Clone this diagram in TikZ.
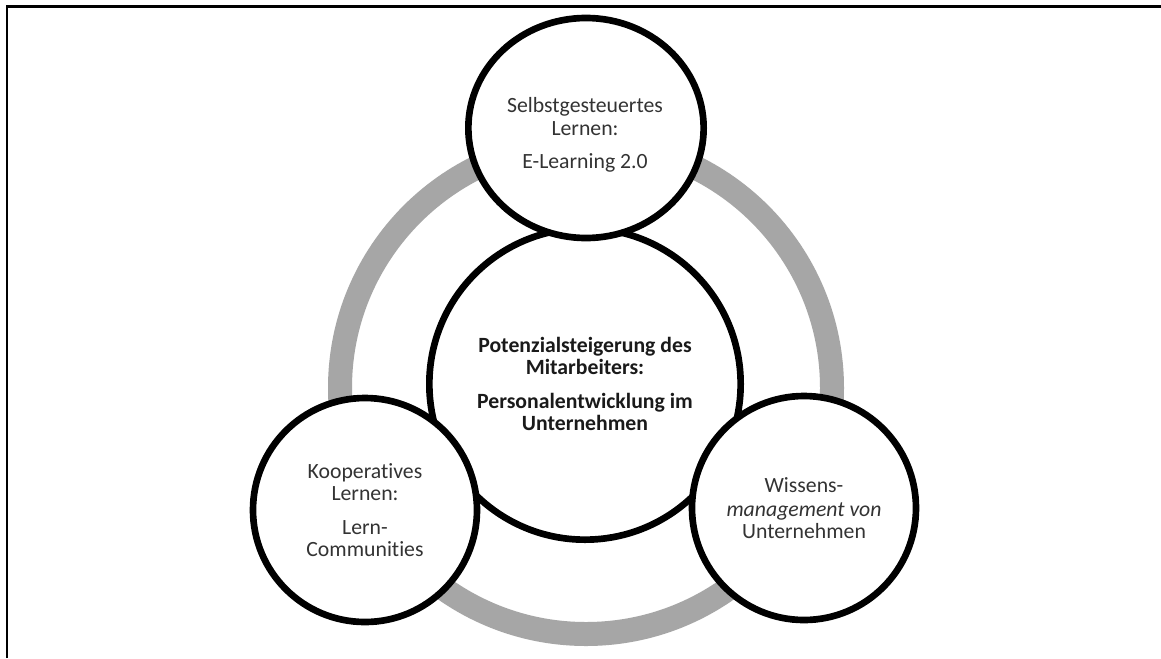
\documentclass[tikz,border=0pt]{standalone}
\usepackage{fontspec}
\setmainfont{Carlito}[Ligatures=NoCommon]
\usetikzlibrary{shapes.geometric}
\definecolor{ringgray}{HTML}{A6A6A6}
\definecolor{labelgray}{HTML}{333333}
\definecolor{hubtext}{HTML}{1A1A1A}
\begin{document}
\begin{tikzpicture}[x=0.75pt,y=-0.75pt,
  labelfont/.style={font=\fontsize{16.3}{16.8}\selectfont},
  ringpath/.style={circle, draw=ringgray, line width=18pt, minimum size=369pt, inner sep=0pt},
  hubcircle/.style={circle, draw=black, line width=5pt, fill=white, minimum size=233.5pt,
    inner sep=0pt, align=center, labelfont, text=hubtext},
  bubble/.style={circle, draw=black, line width=5pt, fill=white, minimum size=168pt,
    inner sep=0pt, align=center, labelfont, text=labelgray},
  topbubble/.style={ellipse, draw=black, line width=5pt, fill=white,
    minimum width=176.5pt, minimum height=165pt, inner sep=0pt},
  bubbletext/.style={align=center, labelfont, text=labelgray, inner sep=0pt},
  frameline/.style={draw=black, line width=2.2pt}]
\useasboundingbox (0,0) rectangle (1161,658);
\fill[white] (0,0) rectangle (1161,658);

% grey cycle behind everything
\node[ringpath] (ring) at (586,388) {};

% central circle
\node[hubcircle] (hub) at (585,384) {\bfseries Potenzialsteigerung des\\\bfseries Mitarbeiters:\\[8.5pt]
  \bfseries Personalentwicklung im\\\bfseries Unternehmen};

% three satellite circles
\node[topbubble] (self) at (586,128) {};
\node[bubbletext] (selfText) at (585,135) {Selbstgesteuertes\\Lernen:\\[8.5pt]E-Learning 2.0};
\node[bubble] (coop) at (365,510) {Kooperatives\\Lernen:\\[8.5pt]Lern-\\Communities};
\node[bubble] (know) at (804,508) {Wissens-\\[1pt]\itshape management von\\Unternehmen};

% open frame: top and left edges
\coordinate (frameBL) at (7,658);
\coordinate (frameTL) at (7,6.5);
\coordinate (frameTR) at (1161,6.5);
\draw[frameline] (frameBL) -- (frameTL) -- (frameTR);
\end{tikzpicture}
\end{document}
